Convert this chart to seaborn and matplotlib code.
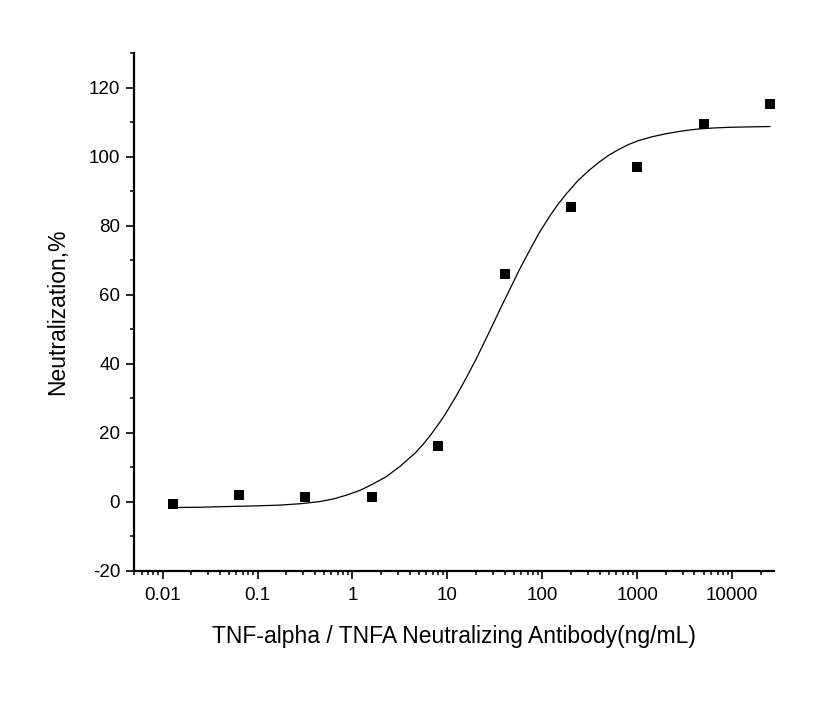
import numpy as np
import pandas as pd
import matplotlib
matplotlib.use('Agg')
import matplotlib.pyplot as plt
import seaborn as sns
from matplotlib.ticker import LogLocator, MultipleLocator, FixedLocator, FixedFormatter

# measured points (5-fold dilution series)
conc = [0.0128, 0.064, 0.32, 1.6, 8, 40, 200, 1000, 5000, 25000]
neutralization = [-0.8, 2.0, 1.3, 1.3, 16.1, 65.9, 85.5, 97.1, 109.4, 115.2]

# fitted curve (log10 of concentration, percent)
curve_logx = [-1.893, -1.6, -1.3, -1.0, -0.77, -0.55, -0.35, -0.2, -0.05, 0.08, 0.20,
              0.353, 0.50, 0.668, 0.75, 0.83, 0.91, 0.983, 1.09, 1.193, 1.30, 1.438, 1.55,
              1.648, 1.75, 1.858, 1.96, 2.079, 2.16, 2.243, 2.37, 2.487, 2.594, 2.7,
              2.8, 2.9, 3.01, 3.15, 3.3, 3.47, 3.645, 3.82, 4.0, 4.2, 4.398]
curve_y = [-1.7, -1.6, -1.4, -1.2, -1.0, -0.6, 0.0, 0.8, 2.0, 3.3, 4.9,
           7.2, 10.2, 14.3, 16.8, 19.6, 22.6, 25.6, 30.5, 35.6, 41.2, 49.0, 55.5,
           61.0, 66.8, 72.4, 77.6, 82.8, 86.0, 88.9, 92.9, 95.9, 98.3, 100.4,
           102.0, 103.4, 104.6, 105.7, 106.6, 107.4, 108.0, 108.3, 108.5, 108.6, 108.7]

xtick_vals = [0.01, 0.1, 1, 10, 100, 1000, 10000]
xtick_labels = ['0.01', '0.1', '1', '10', '100', '1000', '10000']

points = pd.DataFrame({'conc': conc, 'neut': neutralization})
curve = pd.DataFrame({'conc': [10 ** v for v in curve_logx], 'neut': curve_y})

sns.set_style('ticks')
plt.rcParams['font.family'] = ['Liberation Sans', 'DejaVu Sans']
plt.rcParams['axes.unicode_minus'] = False

fig = plt.figure(figsize=(8.22, 7.05), dpi=100)
ax = fig.add_axes([0.163, 0.1905, 0.7786, 0.7343])

sns.lineplot(data=curve, x='conc', y='neut', color='black', linewidth=0.9,
             sort=False, ax=ax)
sns.scatterplot(data=points, x='conc', y='neut', marker='s', color='black',
                s=48, edgecolor='black', linewidth=0, ax=ax, zorder=3)

ax.set_xscale('log')
ax.set_xlim(0.005, 27500)
ax.set_ylim(-20, 130)

ax.xaxis.set_major_locator(FixedLocator(xtick_vals))
ax.xaxis.set_major_formatter(FixedFormatter(xtick_labels))
ax.xaxis.set_minor_locator(LogLocator(base=10, subs=np.arange(2, 10), numticks=20))
ax.yaxis.set_major_locator(FixedLocator([-20, 0, 20, 40, 60, 80, 100, 120]))
ax.yaxis.set_minor_locator(MultipleLocator(10))

for side in ['top', 'right']:
    ax.spines[side].set_visible(False)
for side in ['left', 'bottom']:
    ax.spines[side].set_linewidth(1.6)
    ax.spines[side].set_color('black')

ax.tick_params(which='major', length=6, width=1.2, color='black',
               labelsize=13.5, labelcolor='black')
ax.tick_params(axis='x', which='major', pad=6)
ax.tick_params(axis='y', which='major', pad=4)
ax.tick_params(which='minor', length=3.2, width=1.1, color='black')

ax.set_xlabel('TNF-alpha / TNFA Neutralizing Antibody(ng/mL)', fontsize=16.5,
              labelpad=15, color='black')
ax.set_ylabel('Neutralization,%', fontsize=16.5, labelpad=14, color='black')

fig.savefig('out.png', dpi=100)
